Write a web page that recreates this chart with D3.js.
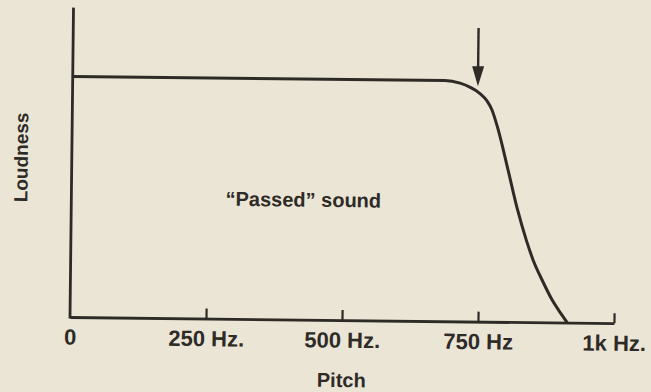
<!DOCTYPE html>
<html>
<head>
<meta charset="utf-8">
<script src="https://cdn.jsdelivr.net/npm/d3@7"></script>
<style>
  html, body { margin: 0; padding: 0; background: #ebe5d6; }
  svg { display: block; }
  text { font-family: "Liberation Sans", Arial, Helvetica, sans-serif; font-weight: 700; fill: #2e2b27; }
</style>
</head>
<body>
<svg id="chart" width="651" height="392"></svg>
<script>
// Low-pass response: loudness stays level, then rolls off above ~700 Hz
const pitchHz  = [0, 684, 712, 731, 749, 762, 771, 783, 802, 820, 837, 850, 867, 886, 904, 914];
const loudness = [1, 1, 0.99, 0.973, 0.948, 0.918, 0.882, 0.80, 0.633, 0.47, 0.342, 0.259, 0.176, 0.093, 0.032, 0];

const tickValues = [0, 250, 500, 750, 1000];
const tickLabels = ["0", "250 Hz.", "500 Hz.", "750 Hz", "1k Hz."];

const xTitle = "Pitch";
const yTitle = "Loudness";
const noteText = "\u201CPassed\u201D sound";

// cutoff marker: pitch and the loudness span of the arrow
const arrowHz = 745;
const arrowSpan = [1.22, 0.978];

const ink = "#2e2b27";

const x = d3.scaleLinear().domain([0, 1000]).range([70, 614]);
const y = d3.scaleLinear().domain([0, 1.28]).range([317, 9]);

const svg = d3.select("#chart");

// whole figure sits slightly askew on the page
const g = svg.append("g")
  .attr("transform", `rotate(0.65, ${x(0)}, ${y(0)})`);

// y axis: bare line, no ticks
g.append("line")
  .attr("x1", x(0)).attr("x2", x(0))
  .attr("y1", y(1.28)).attr("y2", y(0))
  .attr("stroke", ink).attr("stroke-width", 2.8)
  .attr("stroke-linecap", "square");

// x axis with inward ticks
const xAxis = d3.axisBottom(x)
  .tickValues(tickValues)
  .tickFormat((d, i) => tickLabels[i])
  .tickSizeInner(-10)
  .tickSizeOuter(0)
  .tickPadding(12);

const ax = g.append("g")
  .attr("transform", `translate(0, ${y(0)})`)
  .call(xAxis);

ax.select(".domain")
  .attr("stroke", ink).attr("stroke-width", 2.8);
ax.selectAll(".tick line")
  .attr("stroke", ink).attr("stroke-width", 2.2)
  .attr("display", d => d === 0 ? "none" : null);
ax.selectAll(".tick text")
  .attr("fill", ink)
  .style("font-size", "22px")
  .style("font-family", "'Liberation Sans', Arial, sans-serif")
  .style("font-weight", 700);

// response curve
const pts = pitchHz.map((p, i) => [p, loudness[i]]);
const line = d3.line()
  .x(d => x(d[0]))
  .y(d => y(d[1]))
  .curve(d3.curveMonotoneX);

g.append("path")
  .datum(pts)
  .attr("d", line)
  .attr("fill", "none")
  .attr("stroke", ink)
  .attr("stroke-width", 3)
  .attr("stroke-linejoin", "round");

// arrow pointing at the start of the roll-off
const ax0 = x(arrowHz);
const yTop = y(arrowSpan[0]);
const yTip = y(arrowSpan[1]);
const headH = 20, headW = 12;
g.append("line")
  .attr("x1", ax0).attr("x2", ax0)
  .attr("y1", yTop).attr("y2", yTip - headH + 2)
  .attr("stroke", ink).attr("stroke-width", 2.4);
g.append("path")
  .attr("d", `M${ax0 - headW / 2},${yTip - headH} L${ax0 + headW / 2},${yTip - headH} L${ax0},${yTip} Z`)
  .attr("fill", ink);

// in-plot note
g.append("text")
  .attr("x", 302).attr("y", 204)
  .attr("text-anchor", "middle")
  .style("font-size", "20px")
  .text(noteText);

// axis titles
g.append("text")
  .attr("x", x(500)).attr("y", 384)
  .attr("text-anchor", "middle")
  .style("font-size", "20px")
  .text(xTitle);

g.append("text")
  .attr("transform", `translate(26, 158) rotate(-90)`)
  .attr("text-anchor", "middle")
  .style("font-size", "19px")
  .text(yTitle);
</script>
</body>
</html>
